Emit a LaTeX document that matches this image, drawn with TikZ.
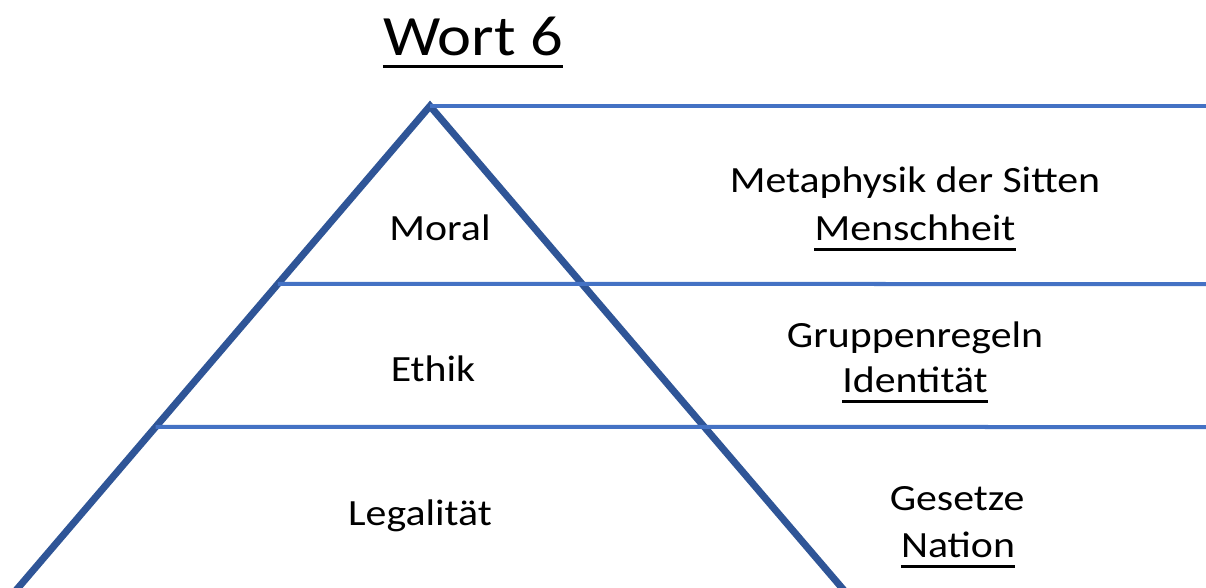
\documentclass[tikz,border=0pt]{standalone}
\usepackage{fontspec}
\setmainfont{Carlito}[FakeStretch=1.13]
\usetikzlibrary{calc}
\definecolor{pyrblue}{HTML}{2F5597}
\definecolor{rowblue}{HTML}{4472C4}
\begin{document}
\begin{tikzpicture}[x=1pt,y=-1pt,
  pyrline/.style={draw=pyrblue,line width=7pt,line join=miter},
  rowline/.style={draw=rowblue,line width=4pt},
  label/.style={anchor=base,inner sep=0pt,font=\fontsize{37}{44}\selectfont},
  title/.style={anchor=base,inner sep=0pt,font=\fontsize{57}{66}\selectfont},
  uline/.style={draw=black,line width=3pt}]
\useasboundingbox (0,0) rectangle (1206,588);
\fill[white] (0,0) rectangle (1206,588);

% pyramid outline
\coordinate (apex) at (430,106);
\coordinate (lb) at (12,595);
\coordinate (rb) at (848,595);
\draw[pyrline] (lb) -- (apex) -- (rb);

% level separators running out to the right edge
\coordinate (r1) at (1210,106);
\coordinate (l2) at ($(apex)!0.364!(lb)$);
\coordinate (r2) at (1210,284);
\coordinate (l3) at ($(apex)!0.6564!(lb)$);
\coordinate (r3) at (1210,427);
\draw[rowline] (apex) -- (r1);
\draw[rowline] (l2) -- (r2);
\draw[rowline] (l3) -- (r3);

% title
\node[title] (t) at (473,56) {Wort 6};
\draw[uline] ([yshift=-11pt]t.base west) -- ([yshift=-11pt]t.base east);

% pyramid levels
\node[label] (moral) at (440,240) {Moral};
\node[label] (ethik) at (433,381) {Ethik};
\node[label] (legal) at (420,525) {Legalität};

% descriptions
\node[label] (meta) at (915,192) {Metaphysik der Sitten};
\node[label] (mensch) at (915,240) {Menschheit};
\draw[uline] ([yshift=-9pt]mensch.base west) -- ([yshift=-9pt]mensch.base east);
\node[label] (grup) at (915,347) {Gruppenregeln};
\node[label] (ident) at (915,392) {Identität};
\draw[uline] ([yshift=-9pt]ident.base west) -- ([yshift=-9pt]ident.base east);
\node[label] (ges) at (957,510) {Gesetze};
\node[label] (nation) at (958,557) {Nation};
\draw[uline] ([yshift=-9pt]nation.base west) -- ([yshift=-9pt]nation.base east);
\end{tikzpicture}
\end{document}
